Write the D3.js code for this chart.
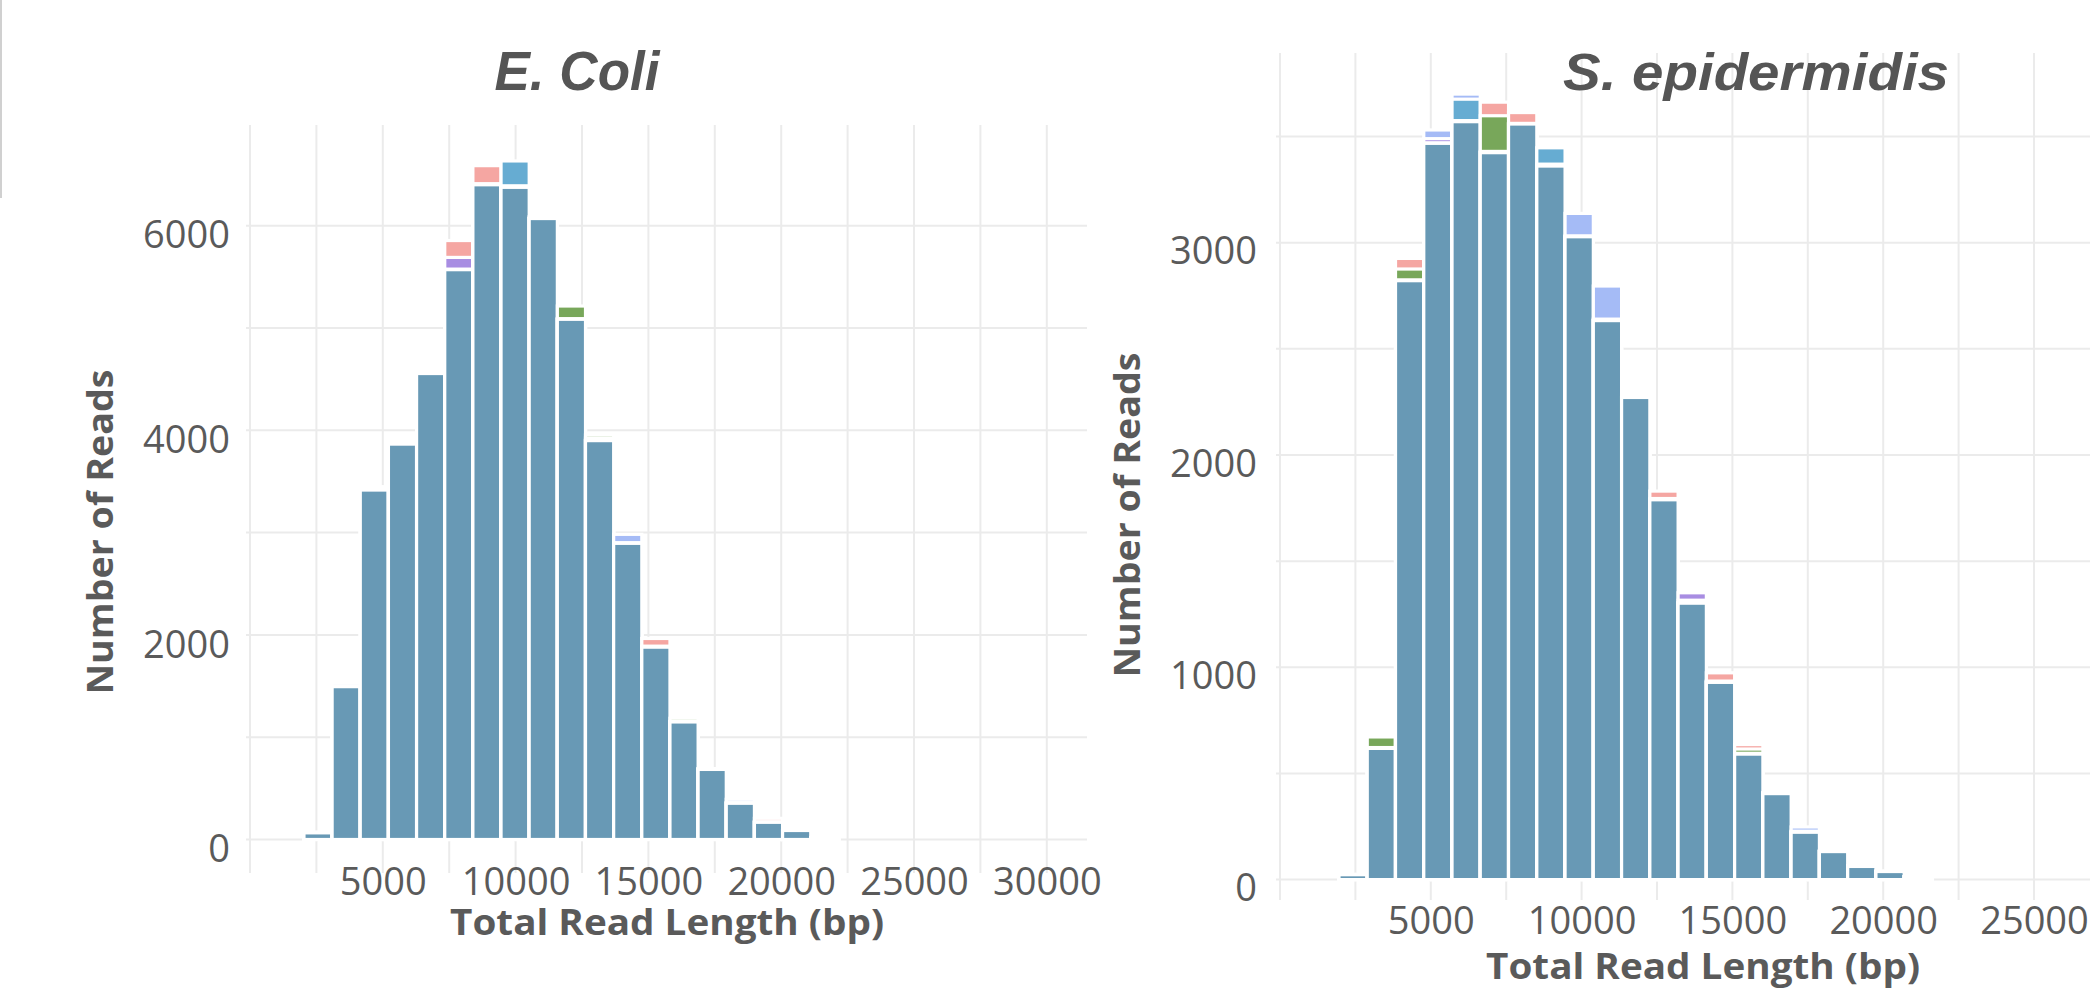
<!DOCTYPE html>
<html>
<head>
<meta charset="utf-8">
<script src="https://cdnjs.cloudflare.com/ajax/libs/d3/7.8.5/d3.min.js"></script>
<style>
  body { margin: 0; background: #fff; }
  svg { display: block; }
</style>
</head>
<body>
<svg id="chart" width="2090" height="989"></svg>
<script>
/* histogram bins (uniform width) and read counts per sample */
const ecoliBinStart = 972;
const ecoliBinWidth = 1060;
const ecoliS1 = [0, 70, 1500, 3449, 3870, 4560, 5855, 6587, 6380, 6072, 5090, 3925, 2900, 1965, 1150, 689, 355, 207, 90, 18, 0, 0, 0, 0, 0, 0, 0, 0, 0];
const ecoliS2 = [0, 68, 1495, 3420, 3868, 4573, 5575, 6410, 6375, 6088, 5215, 3954, 2895, 1885, 1185, 685, 360, 168, 88, 17, 0, 0, 0, 0, 0, 0, 0, 0, 0];
const ecoliS3 = [0, 66, 1498, 3416, 3866, 4555, 5690, 6405, 6378, 6070, 5085, 3899, 2898, 1880, 1152, 690, 354, 170, 92, 20, 0, 0, 0, 0, 0, 0, 0, 0, 0];
const ecoliS4 = [0, 72, 1527, 3425, 3880, 4558, 5572, 6400, 6390, 6075, 5088, 3905, 2983, 1890, 1155, 692, 393, 172, 90, 18, 0, 0, 0, 0, 0, 0, 0, 0, 0];
const ecoliS5 = [0, 65, 1494, 3418, 3865, 4557, 5570, 6405, 6633, 6070, 5085, 3899, 2895, 1882, 1149, 688, 356, 168, 89, 18, 0, 0, 0, 0, 0, 0, 0, 0, 0];

const sepiBinStart = 1019;
const sepiBinWidth = 937;
const sepiS1 = [0, 24, 618, 2926, 3470, 3575, 3662, 3613, 3365, 3030, 2635, 2271, 1830, 1305, 974, 636, 408, 223, 134, 64, 39, 14, 0, 0, 0, 0, 0, 0, 0];
const sepiS2 = [0, 24, 672, 2876, 3468, 3572, 3598, 3559, 3361, 3028, 2633, 2275, 1791, 1302, 929, 615, 405, 225, 132, 62, 38, 12, 0, 0, 0, 0, 0, 0, 0];
const sepiS3 = [0, 23, 620, 2821, 3490, 3570, 3424, 3560, 3362, 3032, 2640, 2273, 1789, 1351, 932, 592, 406, 228, 135, 65, 40, 14, 0, 0, 0, 0, 0, 0, 0];
const sepiS4 = [0, 25, 622, 2825, 3531, 3700, 3430, 3562, 3370, 3138, 2796, 2286, 1795, 1316, 935, 595, 410, 248, 133, 63, 39, 13, 0, 0, 0, 0, 0, 0, 0];
const sepiS5 = [0, 24, 618, 2821, 3468, 3676, 3424, 3559, 3447, 3028, 2633, 2271, 1789, 1302, 929, 591, 407, 223, 134, 64, 38, 14, 0, 0, 0, 0, 0, 0, 0];

const ecoliXTicks = [5000, 10000, 15000, 20000, 25000, 30000];
const ecoliYTicks = [0, 2000, 4000, 6000];
const sepiXTicks = [5000, 10000, 15000, 20000, 25000];
const sepiYTicks = [0, 1000, 2000, 3000];

const seriesColors = ["#f5a6a2", "#78a75a", "#a88de2", "#a5bbf6", "#66acd2"];
const mainColor = "#6899b5"; // where all samples overlap
const gridColor = "#ebebeb";
const textColor = "#5a5a5a";
const tickFont = "'Open Sans', 'Noto Sans', sans-serif";

const svg = d3.select("#chart");
svg.append("rect").attr("width", 2090).attr("height", 989).attr("fill", "#fff");

// thin frame line at the top-left corner
svg.append("line")
  .attr("x1", 1).attr("x2", 1).attr("y1", 0).attr("y2", 198)
  .attr("stroke", "#d0d0d0").attr("stroke-width", 2);

const panels = [
  {
    id: "ecoli", title: "E. Coli", titleX: 577, titleLen: 165, titleSize: 55,
    series: [ecoliS1, ecoliS2, ecoliS3, ecoliS4, ecoliS5],
    binStart: ecoliBinStart, binWidth: ecoliBinWidth,
    xDomain: [0, 30000], xRange: [250, 1046.8],
    yDomain: [0, 6000], yRange: [839.5, 225.7],
    left: 246, right: 1087, top: 125, bottom: 873,
    vGridMax: 30000, hGridMax: 6000, hStep: 1000,
    xTicks: ecoliXTicks, yTicks: ecoliYTicks,
    xLabelTop: 868, yLabelX: 230, yLabelDy: 10,
    yTitleX: 113, yTitleY: 532, xTitleX: 667, xTitleY: 935
  },
  {
    id: "sepi", title: "S. epidermidis", titleX: 1756, titleLen: 386, titleSize: 52,
    series: [sepiS1, sepiS2, sepiS3, sepiS4, sepiS5],
    binStart: sepiBinStart, binWidth: sepiBinWidth,
    xDomain: [0, 25000], xRange: [1280, 2034],
    yDomain: [0, 3000], yRange: [879.6, 242.7],
    left: 1276, right: 2090, top: 53, bottom: 900,
    vGridMax: 27500, hGridMax: 3500, hStep: 500,
    xTicks: sepiXTicks, yTicks: sepiYTicks,
    xLabelTop: 907, yLabelX: 1257, yLabelDy: 9,
    yTitleX: 1140, yTitleY: 515, xTitleX: 1703, xTitleY: 979
  }
];

panels.forEach(drawPanel);

function drawPanel(p) {
  const x = d3.scaleLinear().domain(p.xDomain).range(p.xRange);
  const y = d3.scaleLinear().domain(p.yDomain).range(p.yRange);

  svg.append("clipPath").attr("id", "clip-" + p.id)
    .append("rect")
    .attr("x", p.left).attr("y", 0)
    .attr("width", p.right - p.left).attr("height", 989);

  const g = svg.append("g").attr("clip-path", `url(#clip-${p.id})`);

  // grid lines
  g.selectAll(".hgrid")
    .data(d3.range(0, p.hGridMax + 1, p.hStep))
    .join("line")
    .attr("x1", p.left).attr("x2", p.right)
    .attr("y1", d => y(d)).attr("y2", d => y(d))
    .attr("stroke", gridColor).attr("stroke-width", 2);

  g.selectAll(".vgrid")
    .data(d3.range(0, p.vGridMax + 1, 2500))
    .join("line")
    .attr("x1", d => x(d)).attr("x2", d => x(d))
    .attr("y1", p.top).attr("y2", p.bottom)
    .attr("stroke", gridColor).attr("stroke-width", 2);

  // overlaid histograms: for each bin draw samples tallest first,
  // the shared part (lowest sample) gets the blended main colour
  const rects = p.series[0].map((_, i) => {
    const vals = p.series.map((s, k) => ({ v: s[i], k }));
    vals.sort((a, b) => b.v - a.v);
    return vals.map((d, r) => ({
      i: i,
      v: d.v,
      fill: r === vals.length - 1 ? mainColor : seriesColors[d.k]
    }));
  }).flat();

  g.selectAll(".bar")
    .data(rects)
    .join("rect")
    .attr("class", "bar")
    .attr("x", d => x(p.binStart + d.i * p.binWidth))
    .attr("width", d => x(p.binStart + (d.i + 1) * p.binWidth) - x(p.binStart + d.i * p.binWidth))
    .attr("y", d => y(d.v))
    .attr("height", d => y(0) - y(d.v))
    .attr("fill", d => d.fill)
    .attr("stroke", "#ffffff")
    .attr("stroke-width", 3.2);

  // tick labels
  const xAxis = d3.axisBottom(x).tickValues(p.xTicks).tickFormat(d3.format("d"))
    .tickSize(0).tickPadding(0);
  svg.append("g")
    .attr("transform", `translate(0,${p.xLabelTop})`)
    .call(xAxis)
    .call(a => a.select(".domain").remove())
    .selectAll("text")
    .attr("fill", textColor)
    .style("font-family", tickFont)
    .style("font-size", "38px");

  const yAxis = d3.axisLeft(y).tickValues(p.yTicks).tickFormat(d3.format("d"))
    .tickSize(0).tickPadding(0);
  svg.append("g")
    .attr("transform", `translate(${p.yLabelX},${p.yLabelDy})`)
    .call(yAxis)
    .call(a => a.select(".domain").remove())
    .selectAll("text")
    .attr("fill", textColor)
    .style("font-family", tickFont)
    .style("font-size", "38px");

  // axis titles
  svg.append("text")
    .attr("transform", `translate(${p.yTitleX},${p.yTitleY}) rotate(-90)`)
    .attr("text-anchor", "middle")
    .attr("textLength", 325).attr("lengthAdjust", "spacingAndGlyphs")
    .style("font-family", tickFont).style("font-weight", 700).style("font-size", "36px")
    .attr("fill", textColor)
    .text("Number of Reads");

  svg.append("text")
    .attr("x", p.xTitleX).attr("y", p.xTitleY)
    .attr("text-anchor", "middle")
    .attr("textLength", 434).attr("lengthAdjust", "spacingAndGlyphs")
    .style("font-family", tickFont).style("font-weight", 700).style("font-size", "36px")
    .attr("fill", textColor)
    .text("Total Read Length (bp)");

  // panel title
  svg.append("text")
    .attr("x", p.titleX).attr("y", 90)
    .attr("text-anchor", "middle")
    .attr("textLength", p.titleLen).attr("lengthAdjust", "spacingAndGlyphs")
    .style("font-family", "'Liberation Sans Narrow', 'Liberation Sans', Arial, sans-serif")
    .style("font-weight", 700).style("font-style", "italic")
    .style("font-size", p.titleSize + "px")
    .attr("fill", "#555555")
    .text(p.title);
}
</script>
</body>
</html>
